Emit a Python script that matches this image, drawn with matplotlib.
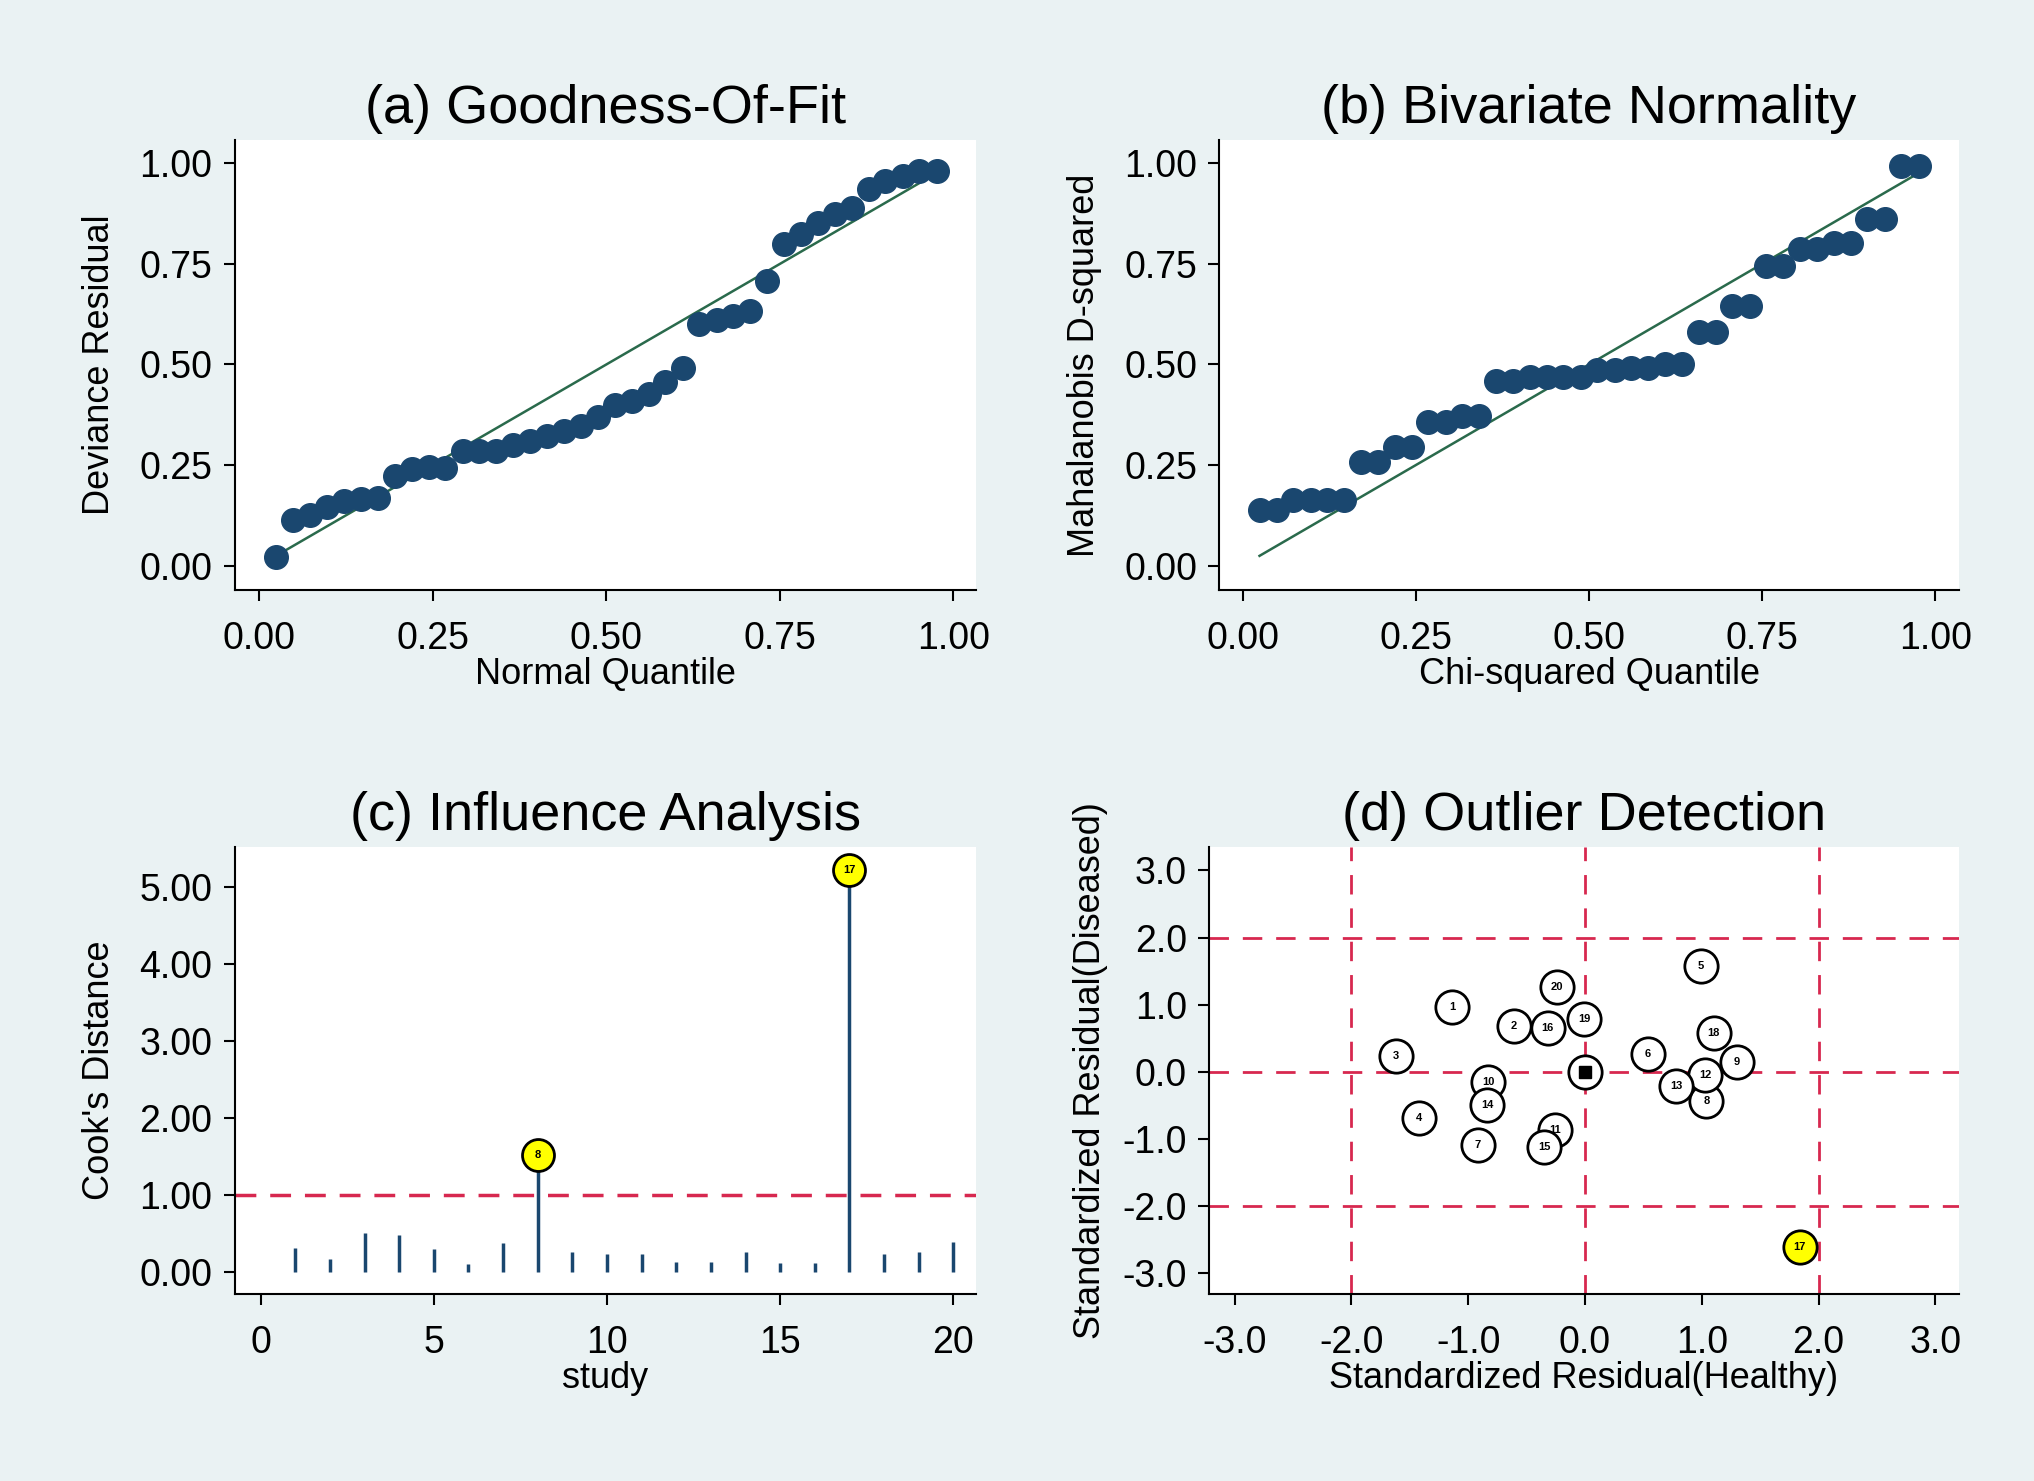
import matplotlib
matplotlib.use('Agg')
import matplotlib.pyplot as plt
import numpy as np

plt.rcParams['font.family'] = ['Liberation Sans', 'DejaVu Sans']
plt.rcParams['axes.unicode_minus'] = False

# quantile positions (40 points)
quant = [0.024, 0.049, 0.073, 0.098, 0.122, 0.146, 0.171, 0.195, 0.220, 0.244,
         0.268, 0.293, 0.317, 0.341, 0.366, 0.390, 0.415, 0.439, 0.463, 0.488,
         0.512, 0.537, 0.561, 0.585, 0.610, 0.634, 0.659, 0.683, 0.707, 0.732,
         0.756, 0.780, 0.805, 0.829, 0.854, 0.878, 0.902, 0.927, 0.951, 0.976]

deviance = [0.021, 0.114, 0.125, 0.145, 0.160, 0.166, 0.168, 0.222, 0.240, 0.245,
            0.242, 0.286, 0.286, 0.286, 0.300, 0.310, 0.323, 0.335, 0.348, 0.369,
            0.400, 0.410, 0.427, 0.456, 0.490, 0.600, 0.610, 0.620, 0.634, 0.708,
            0.800, 0.824, 0.853, 0.874, 0.890, 0.936, 0.957, 0.969, 0.980, 0.980]

mahal = [0.137, 0.137, 0.163, 0.163, 0.163, 0.163, 0.257, 0.257, 0.295, 0.295,
         0.357, 0.357, 0.371, 0.371, 0.460, 0.460, 0.469, 0.469, 0.469, 0.469,
         0.487, 0.487, 0.492, 0.492, 0.502, 0.502, 0.581, 0.581, 0.645, 0.645,
         0.744, 0.744, 0.788, 0.788, 0.802, 0.802, 0.863, 0.863, 0.993, 0.993]

study = list(range(1, 21))
cooks = [0.31, 0.17, 0.51, 0.48, 0.30, 0.10, 0.38, 1.52, 0.26, 0.23,
         0.23, 0.13, 0.13, 0.26, 0.12, 0.11, 5.22, 0.23, 0.26, 0.39]
influential = [8, 17]

res_healthy = [-1.14, -0.61, -1.62, -1.42, 0.99, 0.54, -0.92, 1.04, 1.30, -0.83,
               -0.26, 1.03, 0.78, -0.84, -0.35, -0.32, 1.84, 1.10, -0.01, -0.24]
res_diseased = [0.97, 0.69, 0.24, -0.69, 1.57, 0.27, -1.09, -0.43, 0.14, -0.15,
                -0.87, -0.05, -0.21, -0.50, -1.12, 0.66, -2.60, 0.58, 0.79, 1.27]
outliers = [17]

bg = '#eaf2f3'
navy = '#1a476f'
green = '#2a6a4c'
red = '#d7284f'

fig = plt.figure(figsize=(20.34, 14.81), dpi=100, facecolor=bg)

ax_a = fig.add_axes([0.1154, 0.6016, 0.3642, 0.3038])
ax_b = fig.add_axes([0.5995, 0.6016, 0.3635, 0.3038])
ax_c = fig.add_axes([0.1154, 0.1261, 0.3642, 0.3021])
ax_d = fig.add_axes([0.5944, 0.1261, 0.3686, 0.3021])

tick_fs = 27
label_fs = 26
title_fs = 39


def style(ax):
    ax.set_facecolor('white')
    ax.spines['top'].set_visible(False)
    ax.spines['right'].set_visible(False)
    ax.spines['left'].set_linewidth(1.5)
    ax.spines['bottom'].set_linewidth(1.5)
    ax.tick_params(direction='out', length=8, width=1.5, labelsize=tick_fs)
    ax.tick_params(axis='x', pad=14)
    ax.tick_params(axis='y', pad=8)


# (a) Goodness-Of-Fit
style(ax_a)
ax_a.plot(quant, quant, color=green, lw=1.8, zorder=2)
ax_a.plot(quant, deviance, 'o', color=navy, markersize=17, zorder=3)
ax_a.set_xlim(-0.0355, 1.032)
ax_a.set_ylim(-0.061, 1.058)
ax_a.set_xticks([0, 0.25, 0.5, 0.75, 1.0])
ax_a.set_yticks([0, 0.25, 0.5, 0.75, 1.0])
ax_a.set_xticklabels(['0.00', '0.25', '0.50', '0.75', '1.00'])
ax_a.set_yticklabels(['0.00', '0.25', '0.50', '0.75', '1.00'])
ax_a.set_xlabel('Normal Quantile', fontsize=label_fs, labelpad=0)
ax_a.set_ylabel('Deviance Residual', fontsize=label_fs, labelpad=16)
ax_a.set_title('(a) Goodness-Of-Fit', fontsize=title_fs, pad=12)

# (b) Bivariate Normality
style(ax_b)
ax_b.plot(quant, quant, color=green, lw=1.8, zorder=2)
ax_b.plot(quant, mahal, 'o', color=navy, markersize=17, zorder=3)
ax_b.set_xlim(-0.034, 1.034)
ax_b.set_ylim(-0.061, 1.058)
ax_b.set_xticks([0, 0.25, 0.5, 0.75, 1.0])
ax_b.set_yticks([0, 0.25, 0.5, 0.75, 1.0])
ax_b.set_xticklabels(['0.00', '0.25', '0.50', '0.75', '1.00'])
ax_b.set_yticklabels(['0.00', '0.25', '0.50', '0.75', '1.00'])
ax_b.set_xlabel('Chi-squared Quantile', fontsize=label_fs, labelpad=0)
ax_b.set_ylabel('Mahalanobis D-squared', fontsize=label_fs, labelpad=16)
ax_b.set_title('(b) Bivariate Normality', fontsize=title_fs, pad=12)

# (c) Influence Analysis
style(ax_c)
ax_c.axhline(1.0, color=red, lw=2.5, dashes=(6, 4), zorder=1)
ax_c.vlines(study, 0, cooks, color=navy, lw=2.5, zorder=2)
for s, v in zip(study, cooks):
    if s in influential:
        ax_c.plot(s, v, 'o', markersize=23, markerfacecolor='#ffff00',
                  markeredgecolor='black', markeredgewidth=2, zorder=3)
        ax_c.text(s, v, str(s), fontsize=8, fontweight='bold',
                  ha='center', va='center', zorder=4)
ax_c.set_xlim(-0.75, 20.64)
ax_c.set_ylim(-0.29, 5.52)
ax_c.set_xticks([0, 5, 10, 15, 20])
ax_c.set_yticks([0, 1, 2, 3, 4, 5])
ax_c.set_yticklabels(['0.00', '1.00', '2.00', '3.00', '4.00', '5.00'])
ax_c.set_xlabel('study', fontsize=label_fs, labelpad=0)
ax_c.set_ylabel("Cook's Distance", fontsize=label_fs, labelpad=16)
ax_c.set_title('(c) Influence Analysis', fontsize=title_fs, pad=12)

# (d) Outlier Detection
style(ax_d)
for v in [-2, 0, 2]:
    ax_d.axhline(v, color=red, lw=2.0, dashes=(7, 5), zorder=1)
    ax_d.axvline(v, color=red, lw=2.0, dashes=(7, 5), zorder=1)
for i, (hx, dy) in enumerate(zip(res_healthy, res_diseased)):
    s = study[i]
    fc = '#ffff00' if s in outliers else 'white'
    ax_d.plot(hx, dy, 'o', markersize=24, markerfacecolor=fc,
              markeredgecolor='black', markeredgewidth=2, zorder=3)
    ax_d.text(hx, dy, str(s), fontsize=8, fontweight='bold',
              ha='center', va='center', zorder=4)
# summary point at the origin
ax_d.plot(0, 0, 'o', markersize=24, markerfacecolor='white',
          markeredgecolor='black', markeredgewidth=2, zorder=3)
ax_d.plot(0, 0, 's', markersize=8, color='black', zorder=4)
ax_d.set_xlim(-3.22, 3.2)
ax_d.set_ylim(-3.31, 3.35)
ticks_d = [-3, -2, -1, 0, 1, 2, 3]
ax_d.set_xticks(ticks_d)
ax_d.set_yticks(ticks_d)
ax_d.set_xticklabels(['%.1f' % t for t in ticks_d])
ax_d.set_yticklabels(['%.1f' % t for t in ticks_d])
ax_d.set_xlabel('Standardized Residual(Healthy)', fontsize=label_fs, labelpad=0)
ax_d.set_ylabel('Standardized Residual(Diseased)', fontsize=label_fs, labelpad=10)
ax_d.set_title('(d) Outlier Detection', fontsize=title_fs, pad=12)

fig.savefig('out.png', dpi=100, facecolor=bg)
